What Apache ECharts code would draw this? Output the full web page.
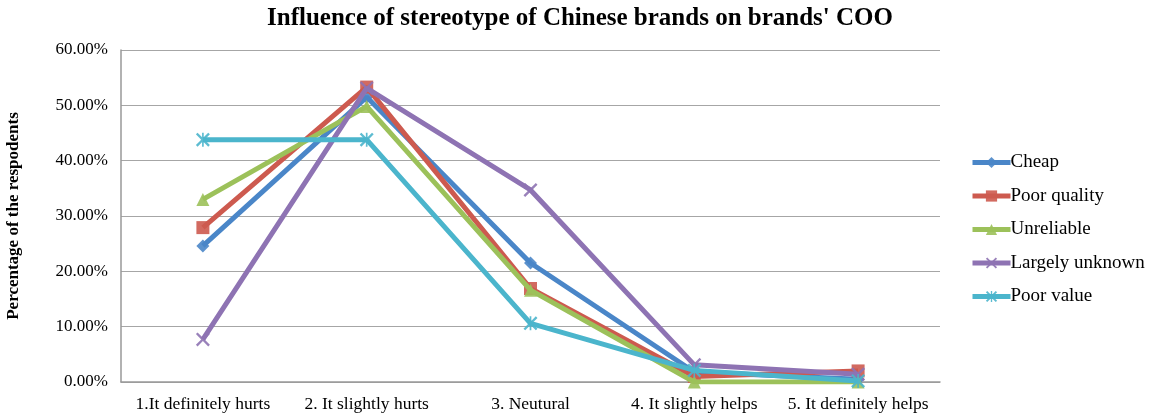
<!DOCTYPE html>
<html>
<head>
<meta charset="utf-8">
<script src="https://cdn.jsdelivr.net/npm/echarts@6/dist/echarts.min.js"></script>
<style>
  html, body { margin: 0; padding: 0; background: #fff; }
  #chart { width: 1153px; height: 413px; }
</style>
</head>
<body>
<div id="chart"></div>
<script>
// Answer categories along the x axis
const categories = ['1.It definitely hurts', '2. It slightly hurts', '3. Neutural', '4. It slightly helps', '5. It definitely helps'];

// Share of respondents (%) per stereotype
const cheap = [24.6, 51.5, 21.5, 1.8, 0.5];
const poorQuality = [27.9, 53.3, 16.9, 1.0, 2.0];
const unreliable = [33.0, 49.8, 16.6, 0.0, 0.0];
const largelyUnknown = [7.7, 53.1, 34.7, 3.1, 1.4];
const poorValue = [43.8, 43.8, 10.6, 2.1, 0.2];

const seriesNames = ['Cheap', 'Poor quality', 'Unreliable', 'Largely unknown', 'Poor value'];

const crossPath = 'path://M0,1.2 L1.2,0 L5,3.8 L8.8,0 L10,1.2 L6.2,5 L10,8.8 L8.8,10 L5,6.2 L1.2,10 L0,8.8 L3.8,5 Z';
const starPath = 'path://M0,1.2 L1.2,0 L5,3.8 L8.8,0 L10,1.2 L6.2,5 L10,8.8 L8.8,10 L5,6.2 L1.2,10 L0,8.8 L3.8,5 Z M4.4,0 L5.6,0 L5.6,10 L4.4,10 Z';

const styles = [
  { color: '#4a86c8', symbol: 'diamond', size: 13 },
  { color: '#cd5a4f', symbol: 'rect', size: 13 },
  { color: '#9cc15a', symbol: 'triangle', size: 13 },
  { color: '#8e73b3', symbol: crossPath, size: 14 },
  { color: '#4bb5cc', symbol: starPath, size: 14 }
];
const values = [cheap, poorQuality, unreliable, largelyUnknown, poorValue];

const serif = '"Liberation Serif", "DejaVu Serif", serif';

const chart = echarts.init(document.getElementById('chart'), null, { renderer: 'canvas' });
chart.setOption({
  animation: false,
  backgroundColor: '#ffffff',
  title: {
    text: "Influence of stereotype of Chinese brands on brands' COO",
    left: 575,
    textAlign: 'center',
    top: 1,
    textStyle: { fontFamily: serif, fontWeight: 'bold', fontSize: 25, color: '#000' }
  },
  legend: {
    orient: 'vertical',
    left: 965,
    top: 148,
    itemWidth: 38,
    itemHeight: 14,
    itemGap: 14.5,
    data: seriesNames,
    lineStyle: { width: 5 },
    textStyle: { fontFamily: serif, fontSize: 19, color: '#000', padding: [0, 0, 0, -5] }
  },
  grid: { left: 121, right: 213, top: 50, bottom: 31, containLabel: false, outerBoundsMode: 'none' },
  xAxis: {
    type: 'category',
    data: categories,
    boundaryGap: true,
    axisLine: { lineStyle: { color: '#999', width: 1.5 } },
    axisTick: { show: false },
    axisLabel: { fontFamily: serif, fontSize: 17.5, color: '#000', margin: 13, interval: 0, hideOverlap: false }
  },
  yAxis: {
    type: 'value',
    min: 0,
    max: 60,
    interval: 10,
    name: 'Percentage of the respodents',
    nameLocation: 'middle',
    nameGap: 99,
    nameTextStyle: { fontFamily: serif, fontWeight: 'bold', fontSize: 17, color: '#000' },
    axisLine: { show: true, lineStyle: { color: '#999', width: 1.5 } },
    axisTick: { show: false },
    splitLine: { lineStyle: { color: '#a6a6a6', width: 1.2 } },
    axisLabel: {
      fontFamily: serif, fontSize: 17, color: '#000', margin: 13,
      formatter: v => v.toFixed(2) + '%'
    }
  },
  series: seriesNames.map((name, i) => ({
    name,
    type: 'line',
    data: values[i],
    symbol: styles[i].symbol,
    symbolSize: styles[i].size,
    lineStyle: { width: 5, color: styles[i].color },
    itemStyle: { color: styles[i].color, opacity: 0.9 },
    z: 2 + i
  }))
});
</script>
</body>
</html>
